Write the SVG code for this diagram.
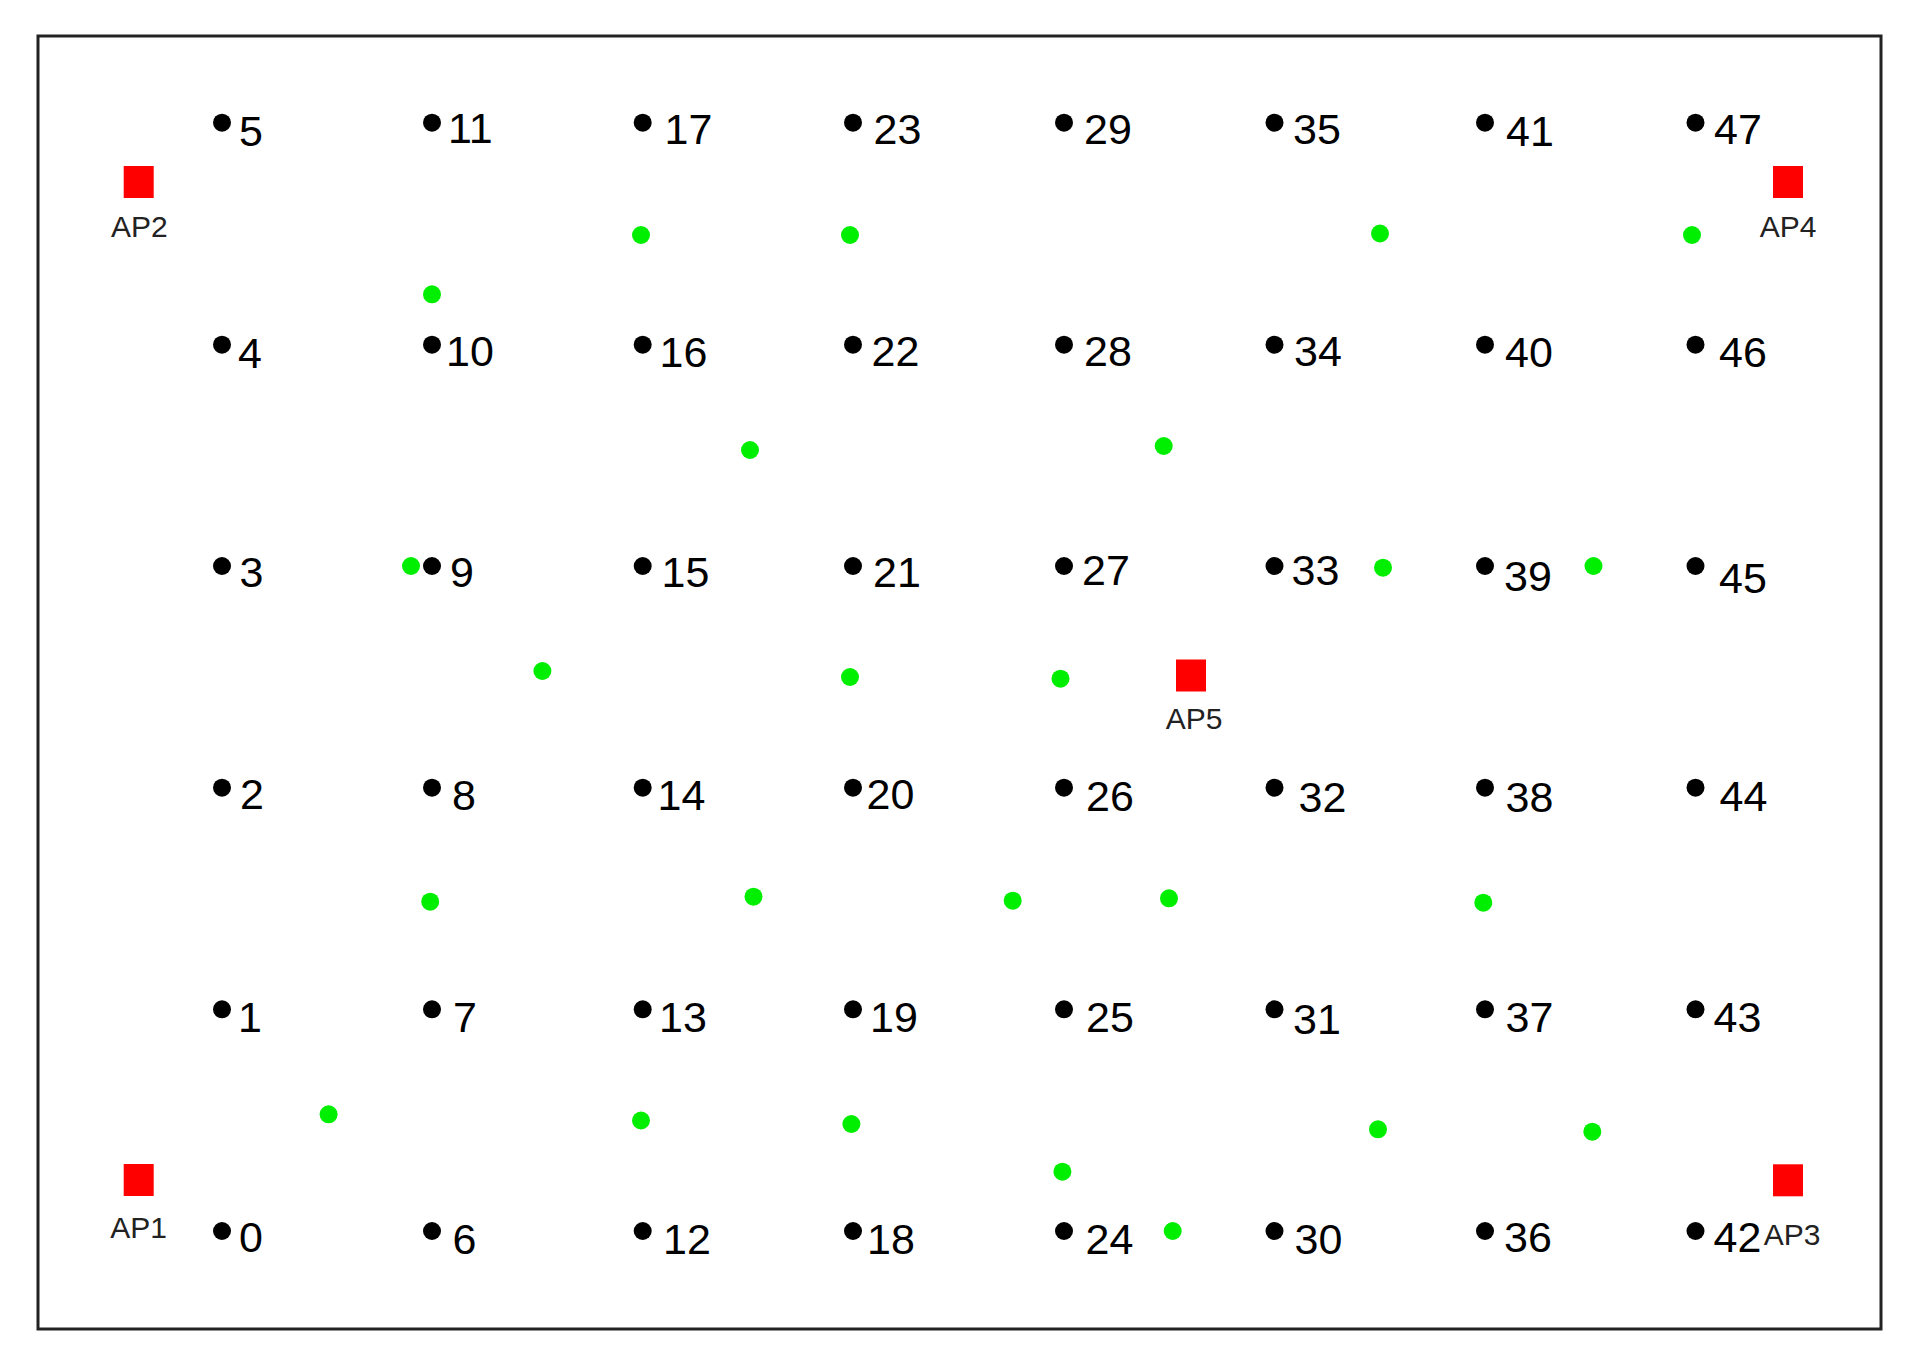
<svg xmlns="http://www.w3.org/2000/svg" width="1918" height="1365" viewBox="0 0 1918 1365">
<style>
.frame{fill:#fff;stroke:#222;stroke-width:3}
.pt{fill:#000}
.gp{fill:#00ee00}
.ap{fill:#ff0000}
.num{font-family:"Liberation Sans",Arial,sans-serif;font-size:43px;fill:#000}
.apl{font-family:"Liberation Sans",Arial,sans-serif;font-size:30px;fill:#222;text-anchor:middle}
</style>
<rect width="1918" height="1365" fill="#fff"/>
<rect class="frame" x="38" y="36" width="1843" height="1293"/>
<g id="connectors"/>
<g id="grid-points">
<g id="p0"><circle class="pt" cx="222" cy="1231" r="9"/><text class="num" x="239" y="1252">0</text></g>
<g id="p1"><circle class="pt" cx="222" cy="1009.3" r="9"/><text class="num" x="238" y="1032.3">1</text></g>
<g id="p2"><circle class="pt" cx="222" cy="787.7" r="9"/><text class="num" x="240" y="809">2</text></g>
<g id="p3"><circle class="pt" cx="222" cy="566" r="9"/><text class="num" x="239.6" y="586.7">3</text></g>
<g id="p4"><circle class="pt" cx="222" cy="344.7" r="9"/><text class="num" x="238" y="368.3">4</text></g>
<g id="p5"><circle class="pt" cx="222" cy="122.7" r="9"/><text class="num" x="239" y="145.7">5</text></g>
<g id="p6"><circle class="pt" cx="432" cy="1231" r="9"/><text class="num" x="452.5" y="1254">6</text></g>
<g id="p7"><circle class="pt" cx="432" cy="1009.3" r="9"/><text class="num" x="453" y="1032.3">7</text></g>
<g id="p8"><circle class="pt" cx="432" cy="787.7" r="9"/><text class="num" x="452" y="810">8</text></g>
<g id="p9"><circle class="pt" cx="432" cy="566" r="9"/><text class="num" x="450" y="586.7">9</text></g>
<g id="p10"><circle class="pt" cx="432" cy="344.7" r="9"/><text class="num" x="446" y="365.7">10</text></g>
<g id="p11"><circle class="pt" cx="432" cy="122.7" r="9"/><text class="num" x="448" y="143.3">11</text></g>
<g id="p12"><circle class="pt" cx="642.7" cy="1231" r="9"/><text class="num" x="663" y="1254">12</text></g>
<g id="p13"><circle class="pt" cx="642.7" cy="1009.3" r="9"/><text class="num" x="659" y="1032.3">13</text></g>
<g id="p14"><circle class="pt" cx="642.7" cy="787.7" r="9"/><text class="num" x="657.5" y="810">14</text></g>
<g id="p15"><circle class="pt" cx="642.7" cy="566" r="9"/><text class="num" x="661.5" y="586.7">15</text></g>
<g id="p16"><circle class="pt" cx="642.7" cy="344.7" r="9"/><text class="num" x="659.5" y="366.7">16</text></g>
<g id="p17"><circle class="pt" cx="642.7" cy="122.7" r="9"/><text class="num" x="664.5" y="144">17</text></g>
<g id="p18"><circle class="pt" cx="853" cy="1231" r="9"/><text class="num" x="867" y="1254">18</text></g>
<g id="p19"><circle class="pt" cx="853" cy="1009.3" r="9"/><text class="num" x="870" y="1032.3">19</text></g>
<g id="p20"><circle class="pt" cx="853" cy="787.7" r="9"/><text class="num" x="866.5" y="809">20</text></g>
<g id="p21"><circle class="pt" cx="853" cy="566" r="9"/><text class="num" x="873" y="586.7">21</text></g>
<g id="p22"><circle class="pt" cx="853" cy="344.7" r="9"/><text class="num" x="871.5" y="366">22</text></g>
<g id="p23"><circle class="pt" cx="853" cy="122.7" r="9"/><text class="num" x="873.5" y="144">23</text></g>
<g id="p24"><circle class="pt" cx="1064" cy="1231" r="9"/><text class="num" x="1085.5" y="1254">24</text></g>
<g id="p25"><circle class="pt" cx="1064" cy="1009.3" r="9"/><text class="num" x="1086" y="1032.3">25</text></g>
<g id="p26"><circle class="pt" cx="1064" cy="787.7" r="9"/><text class="num" x="1086" y="810.7">26</text></g>
<g id="p27"><circle class="pt" cx="1064" cy="566" r="9"/><text class="num" x="1082" y="585">27</text></g>
<g id="p28"><circle class="pt" cx="1064" cy="344.7" r="9"/><text class="num" x="1084" y="366">28</text></g>
<g id="p29"><circle class="pt" cx="1064" cy="122.7" r="9"/><text class="num" x="1084" y="144">29</text></g>
<g id="p30"><circle class="pt" cx="1274.5" cy="1231" r="9"/><text class="num" x="1294.5" y="1254">30</text></g>
<g id="p31"><circle class="pt" cx="1274.5" cy="1009.3" r="9"/><text class="num" x="1293" y="1034">31</text></g>
<g id="p32"><circle class="pt" cx="1274.5" cy="787.7" r="9"/><text class="num" x="1298.5" y="812.3">32</text></g>
<g id="p33"><circle class="pt" cx="1274.5" cy="566" r="9"/><text class="num" x="1291.5" y="585">33</text></g>
<g id="p34"><circle class="pt" cx="1274.5" cy="344.7" r="9"/><text class="num" x="1294" y="365.7">34</text></g>
<g id="p35"><circle class="pt" cx="1274.5" cy="122.7" r="9"/><text class="num" x="1293" y="144">35</text></g>
<g id="p36"><circle class="pt" cx="1485" cy="1231" r="9"/><text class="num" x="1504" y="1251.7">36</text></g>
<g id="p37"><circle class="pt" cx="1485" cy="1009.3" r="9"/><text class="num" x="1505.5" y="1032.3">37</text></g>
<g id="p38"><circle class="pt" cx="1485" cy="787.7" r="9"/><text class="num" x="1505.5" y="812.3">38</text></g>
<g id="p39"><circle class="pt" cx="1485" cy="566" r="9"/><text class="num" x="1504" y="590.7">39</text></g>
<g id="p40"><circle class="pt" cx="1485" cy="344.7" r="9"/><text class="num" x="1505" y="367.3">40</text></g>
<g id="p41"><circle class="pt" cx="1485" cy="122.7" r="9"/><text class="num" x="1506" y="145.7">41</text></g>
<g id="p42"><circle class="pt" cx="1695.5" cy="1231" r="9"/><text class="num" x="1713.5" y="1252.3">42</text></g>
<g id="p43"><circle class="pt" cx="1695.5" cy="1009.3" r="9"/><text class="num" x="1713.5" y="1032.3">43</text></g>
<g id="p44"><circle class="pt" cx="1695.5" cy="787.7" r="9"/><text class="num" x="1719.5" y="810.7">44</text></g>
<g id="p45"><circle class="pt" cx="1695.5" cy="566" r="9"/><text class="num" x="1719" y="593.3">45</text></g>
<g id="p46"><circle class="pt" cx="1695.5" cy="344.7" r="9"/><text class="num" x="1719" y="367.3">46</text></g>
<g id="p47"><circle class="pt" cx="1695.5" cy="122.7" r="9"/><text class="num" x="1714" y="144">47</text></g>
</g>
<g id="test-points">
<circle id="t1" class="gp" cx="641" cy="235" r="9"/>
<circle id="t2" class="gp" cx="850" cy="235" r="9"/>
<circle id="t3" class="gp" cx="1380" cy="233.5" r="9"/>
<circle id="t4" class="gp" cx="1692" cy="235" r="9"/>
<circle id="t5" class="gp" cx="432" cy="294.3" r="9"/>
<circle id="t6" class="gp" cx="750" cy="450" r="9"/>
<circle id="t7" class="gp" cx="1163.7" cy="446" r="9"/>
<circle id="t8" class="gp" cx="411" cy="566" r="9"/>
<circle id="t9" class="gp" cx="1383" cy="567.7" r="9"/>
<circle id="t10" class="gp" cx="1593.5" cy="566" r="9"/>
<circle id="t11" class="gp" cx="542.4" cy="671" r="9"/>
<circle id="t12" class="gp" cx="850" cy="677" r="9"/>
<circle id="t13" class="gp" cx="1060.5" cy="678.7" r="9"/>
<circle id="t14" class="gp" cx="430.2" cy="901.7" r="9"/>
<circle id="t15" class="gp" cx="753.5" cy="896.7" r="9"/>
<circle id="t16" class="gp" cx="1012.7" cy="900.7" r="9"/>
<circle id="t17" class="gp" cx="1169" cy="898.3" r="9"/>
<circle id="t18" class="gp" cx="1483.3" cy="902.7" r="9"/>
<circle id="t19" class="gp" cx="328.6" cy="1114.3" r="9"/>
<circle id="t20" class="gp" cx="641" cy="1120.5" r="9"/>
<circle id="t21" class="gp" cx="851.4" cy="1124" r="9"/>
<circle id="t22" class="gp" cx="1378" cy="1129.3" r="9"/>
<circle id="t23" class="gp" cx="1592.3" cy="1131.7" r="9"/>
<circle id="t24" class="gp" cx="1062.4" cy="1171.7" r="9"/>
<circle id="t25" class="gp" cx="1172.7" cy="1231" r="9"/>
</g>
<g id="access-points">
<g id="AP1"><rect class="ap" x="123.7" y="1164" width="30" height="32"/><text class="apl" x="138.5" y="1237.7">AP1</text></g>
<g id="AP2"><rect class="ap" x="123.7" y="166" width="30" height="32"/><text class="apl" x="139.4" y="236.7">AP2</text></g>
<g id="AP3"><rect class="ap" x="1773" y="1164.3" width="30" height="32"/><text class="apl" x="1792" y="1245">AP3</text></g>
<g id="AP4"><rect class="ap" x="1773" y="166" width="30" height="32"/><text class="apl" x="1788.2" y="236.7">AP4</text></g>
<g id="AP5"><rect class="ap" x="1176" y="659.5" width="30" height="32"/><text class="apl" x="1194" y="729.3">AP5</text></g>
</g>
</svg>
